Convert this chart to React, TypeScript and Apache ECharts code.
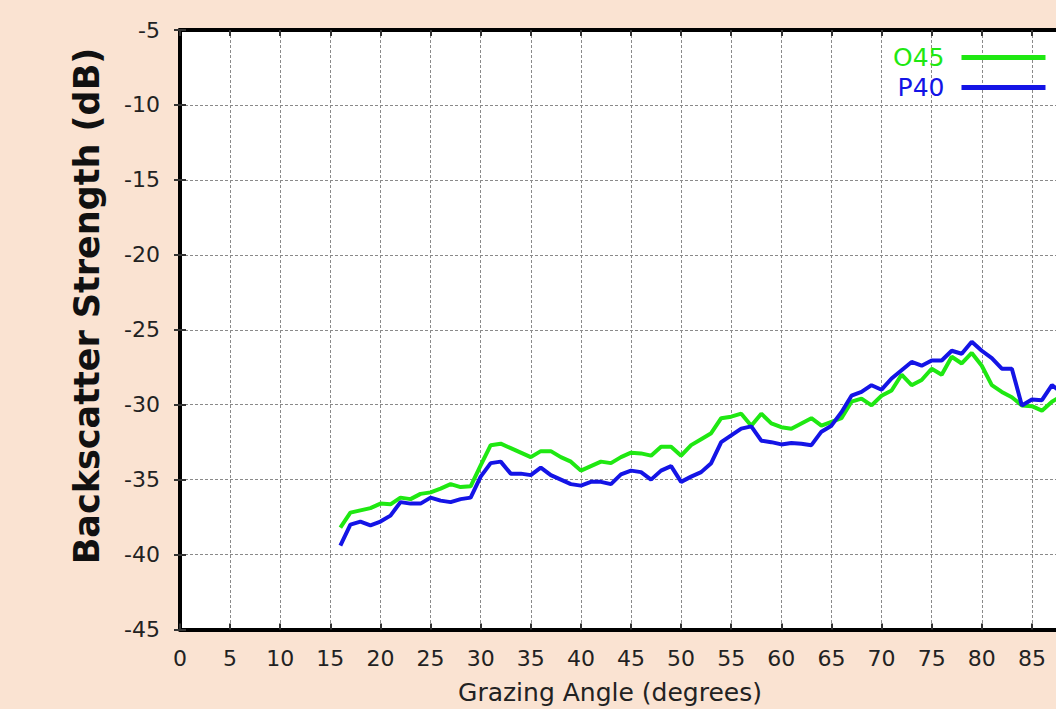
import React, { useEffect, useRef } from "react";
import * as echarts from "echarts";

// Grazing angle (degrees) for each measured point
const angles: number[] = [
  16, 17, 18, 19, 20, 21, 22, 23, 24, 25, 26, 27, 28, 29, 30, 31, 32, 33, 34, 35,
  36, 37, 38, 39, 40, 41, 42, 43, 44, 45, 46, 47, 48, 49, 50, 51, 52, 53, 54, 55,
  56, 57, 58, 59, 60, 61, 62, 63, 64, 65, 66, 67, 68, 69, 70, 71, 72, 73, 74, 75,
  76, 77, 78, 79, 80, 81, 82, 83, 84, 85, 86, 87, 88,
];

// Backscatter strength (dB), site O45
const o45: number[] = [
  -38.2, -37.2, -37.05, -36.9, -36.6, -36.65, -36.2, -36.3, -35.95, -35.85,
  -35.6, -35.3, -35.5, -35.45, -34.05, -32.7, -32.6, -32.9, -33.2, -33.5,
  -33.1, -33.1, -33.5, -33.8, -34.4, -34.1, -33.8, -33.9, -33.5, -33.2,
  -33.25, -33.4, -32.8, -32.8, -33.4, -32.7, -32.3, -31.9, -30.9, -30.8,
  -30.6, -31.4, -30.6, -31.25, -31.5, -31.6, -31.25, -30.9, -31.4, -31.15,
  -30.9, -29.8, -29.6, -30.05, -29.4, -29.05, -28.0, -28.7, -28.35, -27.6,
  -28.0, -26.8, -27.25, -26.55, -27.4, -28.7, -29.15, -29.5, -30.05, -30.1,
  -30.4, -29.8, -29.4,
];

// Backscatter strength (dB), site P40
const p40: number[] = [
  -39.4, -38.0, -37.8, -38.05, -37.8, -37.4, -36.5, -36.6, -36.6, -36.2,
  -36.4, -36.5, -36.3, -36.2, -34.8, -33.9, -33.8, -34.6, -34.6, -34.7,
  -34.2, -34.7, -35.0, -35.3, -35.4, -35.15, -35.15, -35.3, -34.65, -34.4,
  -34.5, -35.0, -34.4, -34.1, -35.15, -34.8, -34.5, -33.9, -32.5, -32.05,
  -31.6, -31.45, -32.4, -32.5, -32.65, -32.55, -32.6, -32.7, -31.8, -31.4,
  -30.5, -29.4, -29.15, -28.7, -29.0, -28.25, -27.7, -27.15, -27.4, -27.05,
  -27.05, -26.4, -26.6, -25.8, -26.4, -26.9, -27.6, -27.6, -30.05, -29.65,
  -29.7, -28.7, -29.2,
];

const seriesNames = ["O45", "P40"];
const seriesColors = ["#1fe812", "#1414e6"];

const BG = "#fae3d2";
const FONT = "DejaVu Sans";

export default function App() {
  const ref = useRef<HTMLDivElement>(null);

  useEffect(() => {
    document.body.style.margin = "0";
    document.body.style.overflow = "hidden";
    const chart = echarts.init(ref.current!, undefined, { renderer: "svg" });

    const pair = (ys: number[]) => angles.map((a, i) => [a, ys[i]]);

    const frameAxis = {
      axisLine: { show: true, lineStyle: { color: "#000", width: 4 } },
      axisTick: {
        show: true,
        inside: true,
        length: 6,
        lineStyle: { color: "#333", width: 2 },
      },
    };
    const grid = {
      show: true,
      lineStyle: { color: "#8a8a8a", width: 1, type: [3, 2] as number[] },
    };

    chart.setOption({
      animation: false,
      backgroundColor: BG,
      grid: {
        left: 180,
        right: 18,
        top: 30,
        bottom: 79.5,
        show: true,
        backgroundColor: "#fff",
        borderWidth: 0,
      },
      legend: {
        orient: "vertical",
        left: 888,
        top: 40,
        align: "right",
        itemWidth: 84,
        itemHeight: 5,
        itemGap: 5,
        icon: "rect",
        data: seriesNames.map((name, i) => ({
          name,
          textStyle: { color: seriesColors[i] },
        })),
        textStyle: {
          fontFamily: FONT,
          fontSize: 25,
          padding: [0, 12, 0, 0],
        },
      },
      xAxis: [
        {
          type: "value",
          min: 0,
          max: 90,
          interval: 5,
          position: "bottom",
          ...frameAxis,
          splitLine: grid,
          axisLabel: {
            margin: 18,
            fontFamily: FONT,
            fontSize: 22,
            color: "#222",
            showMaxLabel: false,
          },
        },
        {
          type: "value",
          min: 0,
          max: 90,
          interval: 5,
          position: "top",
          ...frameAxis,
          splitLine: { show: false },
          axisLabel: { show: false },
        },
      ],
      yAxis: [
        {
          type: "value",
          min: -45,
          max: -5,
          interval: 5,
          position: "left",
          ...frameAxis,
          splitLine: grid,
          axisLabel: {
            margin: 20,
            fontFamily: FONT,
            fontSize: 22,
            color: "#222",
          },
        },
        {
          type: "value",
          min: -45,
          max: -5,
          interval: 5,
          position: "right",
          ...frameAxis,
          splitLine: { show: false },
          axisLabel: { show: false },
        },
      ],
      series: [
        {
          name: seriesNames[0],
          type: "line",
          data: pair(o45),
          symbol: "none",
          color: seriesColors[0],
          lineStyle: { width: 4, color: seriesColors[0] },
          z: 3,
        },
        {
          name: seriesNames[1],
          type: "line",
          data: pair(p40),
          symbol: "none",
          color: seriesColors[1],
          lineStyle: { width: 4, color: seriesColors[1] },
          z: 4,
        },
      ],
      graphic: [
        {
          type: "text",
          x: 87,
          y: 306,
          rotation: Math.PI / 2,
          style: {
            text: "Backscatter Strength (dB)",
            fontFamily: FONT,
            fontWeight: "bold",
            fontSize: 35,
            fill: "#111",
            align: "center",
            verticalAlign: "middle",
          },
        },
        {
          type: "text",
          x: 610,
          y: 692,
          style: {
            text: "Grazing Angle (degrees)",
            fontFamily: FONT,
            fontSize: 25,
            fill: "#222",
            align: "center",
            verticalAlign: "middle",
          },
        },
      ],
    });

    return () => chart.dispose();
  }, []);

  return (
    <div
      style={{
        position: "fixed",
        left: 0,
        top: 0,
        width: 1056,
        height: 709,
        overflow: "hidden",
        background: BG,
      }}
    >
      <div ref={ref} style={{ width: 1100, height: 709 }} />
    </div>
  );
}
